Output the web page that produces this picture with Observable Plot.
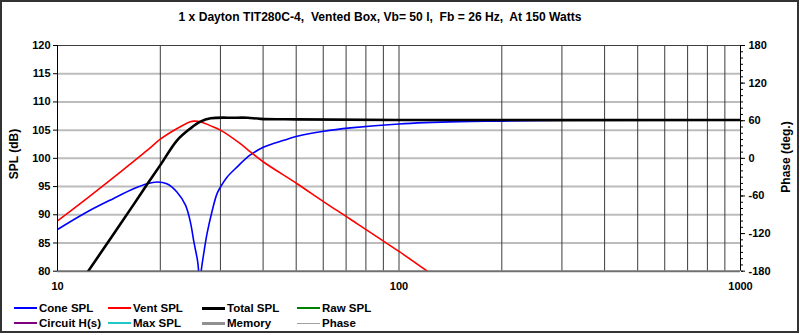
<!DOCTYPE html>
<html>
<head>
<meta charset="utf-8">
<script src="https://cdn.jsdelivr.net/npm/d3@7"></script>
<script src="https://cdn.jsdelivr.net/npm/@observablehq/plot@0.6"></script>
<style>
  html, body { margin: 0; padding: 0; background: #fff; }
  #wrap { position: relative; width: 800px; height: 335px; overflow: hidden; background: #fff;
          font-family: "Liberation Sans", Arial, sans-serif; font-weight: bold; color: #000; }
  #frame { position: absolute; left: 0; top: 0; width: 799px; height: 333px; box-sizing: border-box;
           border: 2px solid #333; pointer-events: none; }
  #title { position: absolute; top: 10px; left: 0; width: 760px; text-align: center; font-size: 12.1px; white-space: pre; }
  #chart { position: absolute; left: 0; top: 0; }
  .ytitle { position: absolute; font-size: 12px; white-space: nowrap; transform: translate(-50%, -50%) rotate(-90deg); }
  .leg { position: absolute; font-size: 11.5px; white-space: nowrap; line-height: 14px; }
  .leg span.sw { position: absolute; top: 7px; }
</style>
</head>
<body>
<div id="wrap">
  <div id="chart"></div>
  <div id="title"></div>
  <div class="ytitle" style="left:14px; top:154px;">SPL (dB)</div>
  <div class="ytitle" style="left:786px; top:157px;">Phase (deg.)</div>
  <div id="legend"></div>
  <div id="frame"></div>
</div>
<script>
// ---- Data ----
const titleText = "1 x Dayton TIT280C-4,  Vented Box, Vb= 50 l,  Fb = 26 Hz,  At 150 Watts";

const coneFreq = [10, 12.2, 14.6, 16.7, 18.3, 19.6, 20.9, 22.4, 23.7, 24.5, 25.1, 25.7, 25.9, 26.1, 26.35, 26.8, 27.4, 28.4, 29.3, 30, 31.4, 33.6, 36.7, 40.2, 46, 50.3, 60.2, 72.1, 100, 150, 200, 300, 1000];
const coneSpl  = [87.4, 90.5, 92.9, 94.6, 95.5, 95.8, 95.5, 94.0, 91.7, 88.7, 85.1, 81.9, 80.0, 76.0, 80.0, 83.1, 86.6, 90.8, 93.7, 94.9, 96.7, 98.5, 100.6, 102.0, 103.2, 103.9, 104.8, 105.4, 106.1, 106.5, 106.6, 106.75, 106.8];

const ventFreq = [10, 12.2, 15.3, 18.3, 20, 22.4, 24.5, 25.1, 26.2, 28, 30, 34.3, 36.8, 40, 50.3, 60.2, 72.1, 100, 121];
const ventSpl  = [88.9, 92.9, 97.6, 101.4, 103.4, 105.3, 106.5, 106.6, 106.5, 105.8, 105.0, 102.6, 101.1, 99.4, 95.5, 92.3, 89.2, 83.5, 80.0];

const totalFreq = [12.3, 14.6, 16.7, 18.3, 20, 22.4, 24.5, 26.2, 28.1, 32.8, 36, 39.3, 50, 100, 1000];
const totalSpl  = [80.0, 86.6, 91.8, 95.4, 98.8, 103.2, 105.3, 106.5, 107.1, 107.2, 107.2, 107.0, 106.9, 106.8, 106.8];

const xTickLabels = [10, 100, 1000];
const xGrid = [20, 30, 40, 50, 60, 70, 80, 90, 100, 200, 300, 400, 500, 600, 700, 800, 900];
const splTicks = [80, 85, 90, 95, 100, 105, 110, 115, 120];
const splGrid = [85, 90, 95, 100, 105, 110, 115];
const phaseTicks = [-180, -120, -60, 0, 60, 120, 180];
const phaseMinor = d3.range(-180, 181, 10);

const legendItems = [
  {name: "Cone SPL",     color: "#0000ff", w: 1.5},
  {name: "Vent SPL",     color: "#ff0000", w: 1.5},
  {name: "Total SPL",    color: "#000000", w: 3},
  {name: "Raw SPL",      color: "#008000", w: 1.5},
  {name: "Circuit H(s)", color: "#800080", w: 1.5},
  {name: "Max SPL",      color: "#20c8c8", w: 1.5},
  {name: "Memory",       color: "#909090", w: 3},
  {name: "Phase",        color: "#a0a0a0", w: 1}
];

// ---- Build tables ----
const zip = (fs, vs) => fs.map((f, i) => ({f, db: vs[i]}));
const cone = zip(coneFreq, coneSpl);
const vent = zip(ventFreq, ventSpl);
const total = zip(totalFreq, totalSpl);
const phaseToDb = p => 80 + (p + 180) / 9;

const chart = Plot.plot({
  width: 800,
  height: 300,
  marginTop: 45,
  marginBottom: 29.3,
  marginLeft: 57,
  marginRight: 60,
  style: {fontFamily: "'Liberation Sans', Arial, sans-serif", fontSize: "11px", fontWeight: "bold", color: "#000", background: "transparent", overflow: "visible"},
  x: {type: "log", domain: [10, 1000]},
  y: {domain: [80, 120]},
  marks: [
    Plot.ruleY(splGrid, {stroke: "#bcbcbc", strokeWidth: 2}),
    Plot.ruleX(xGrid, {stroke: "#3c3c3c", strokeWidth: 1}),
    Plot.ruleY([120], {stroke: "#404040", strokeWidth: 1}),
    Plot.ruleY([80], {stroke: "#707070", strokeWidth: 2}),
    Plot.line(cone, {x: "f", y: "db", stroke: "#0000ff", strokeWidth: 1.6, curve: "catmull-rom", clip: true}),
    Plot.line(vent, {x: "f", y: "db", stroke: "#ff0000", strokeWidth: 1.6, curve: "catmull-rom", clip: true}),
    Plot.line(total, {x: "f", y: "db", stroke: "#000000", strokeWidth: 2.6, curve: "catmull-rom", clip: true}),
    Plot.ruleX([10], {stroke: "#000", strokeWidth: 1}),
    Plot.ruleX([1000], {stroke: "#000", strokeWidth: 1}),
    Plot.axisX({ticks: xTickLabels, tickSize: 0, tickPadding: 11, tickFormat: d => String(d), label: null}),
    Plot.axisY({anchor: "left", ticks: splTicks, tickSize: 4, tickPadding: 3, label: null}),
    Plot.axisY({anchor: "right", ticks: phaseMinor.map(phaseToDb), tickSize: 2, tickFormat: () => "", label: null}),
    Plot.axisY({anchor: "right", ticks: phaseTicks.map(phaseToDb), tickSize: 4, tickPadding: 4,
                tickFormat: d => String(Math.round((d - 80) * 9 - 180)), label: null})
  ]
});
document.getElementById("chart").appendChild(chart);
document.getElementById("title").textContent = titleText;

// ---- Legend ----
const legX = [14, 108, 202, 297];
const legY = [301, 316];
const leg = document.getElementById("legend");
legendItems.forEach((it, i) => {
  const col = i % 4, row = Math.floor(i / 4);
  const d = document.createElement("div");
  d.className = "leg";
  d.style.left = legX[col] + "px";
  d.style.top = legY[row] + "px";
  d.style.paddingLeft = "25px";
  const sw = document.createElement("span");
  sw.className = "sw";
  sw.style.left = "0px";
  sw.style.width = "23px";
  sw.style.height = it.w + "px";
  sw.style.marginTop = (-it.w / 2) + "px";
  sw.style.background = it.color;
  d.appendChild(sw);
  d.appendChild(document.createTextNode(it.name));
  leg.appendChild(d);
});
</script>
</body>
</html>
